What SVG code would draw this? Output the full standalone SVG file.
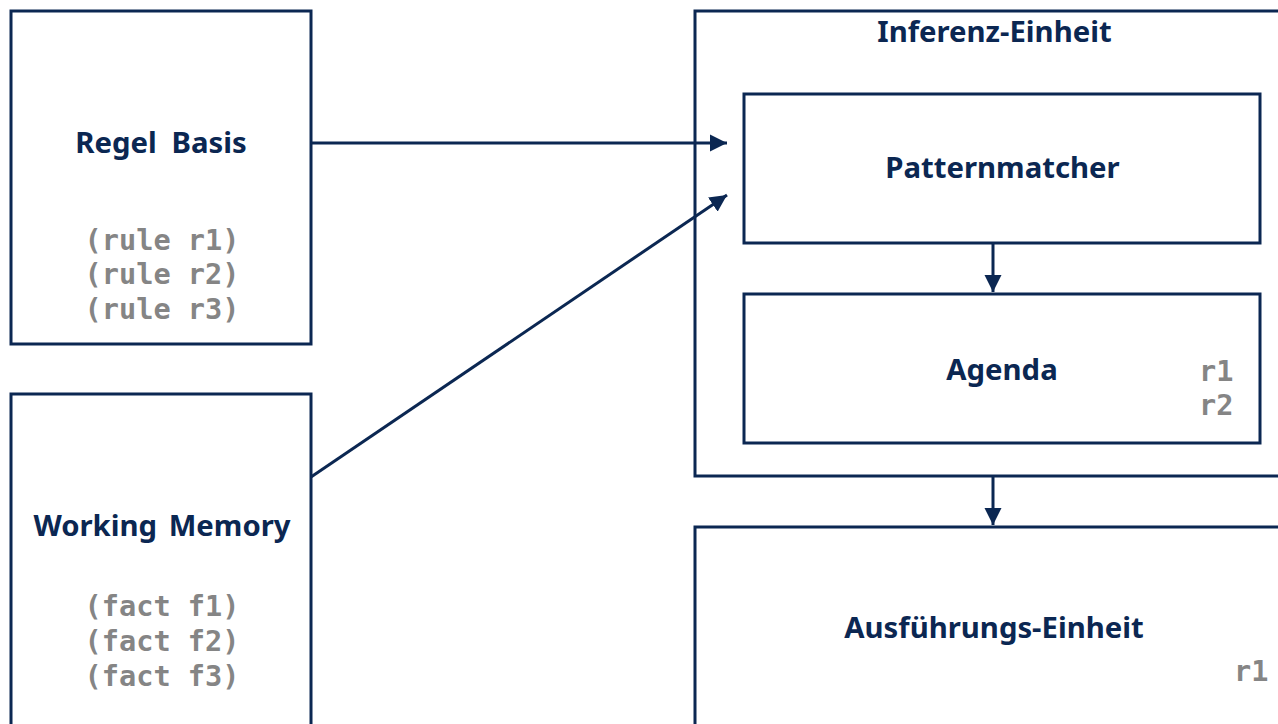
<svg xmlns="http://www.w3.org/2000/svg" width="1278" height="724" viewBox="0 0 1278 724">
  <defs>
    <marker id="arrow" viewBox="0 0 10 10" refX="10" refY="5" markerWidth="5.7" markerHeight="5.7" markerUnits="strokeWidth" orient="auto">
      <path d="M0,0 L10,5 L0,10 Z" fill="#0b2752"/>
    </marker>
    <style>
      .box { fill: #ffffff; stroke: #0b2752; stroke-width: 3; }
      .title { font-family: "Noto Sans", "Open Sans", sans-serif; font-weight: 700; font-size: 29.3px; fill: #0b2752; text-anchor: middle; }
      .code { font-family: "DejaVu Sans Mono", "Liberation Mono", monospace; font-weight: 700; font-size: 28.6px; fill: #858585; text-anchor: middle; }
      .tag { font-family: "DejaVu Sans Mono", "Liberation Mono", monospace; font-weight: 700; font-size: 28.6px; fill: #858585; }
      .edge { fill: none; stroke: #0b2752; stroke-width: 3; marker-end: url(#arrow); }
    </style>
  </defs>
  <rect width="1278" height="724" fill="#ffffff"/>

  <g id="regel-basis">
    <rect class="box" x="11" y="11" width="300" height="333"/>
    <text class="title" x="161" y="153" word-spacing="7">Regel Basis</text>
    <text class="code" x="162" y="250">(rule r1)</text>
    <text class="code" x="162" y="284">(rule r2)</text>
    <text class="code" x="162" y="319">(rule r3)</text>
  </g>

  <g id="working-memory">
    <rect class="box" x="11" y="394" width="300" height="340"/>
    <text class="title" x="162" y="536" word-spacing="4">Working Memory</text>
    <text class="code" x="162" y="616">(fact f1)</text>
    <text class="code" x="162" y="651">(fact f2)</text>
    <text class="code" x="162" y="686">(fact f3)</text>
  </g>

  <g id="inferenz-einheit">
    <rect class="box" x="695" y="11" width="600" height="465"/>
    <text class="title" x="994.5" y="42">Inferenz-Einheit</text>
  </g>

  <g id="patternmatcher">
    <rect class="box" x="744" y="94" width="516" height="149"/>
    <text class="title" x="1002.5" y="178">Patternmatcher</text>
  </g>

  <g id="agenda">
    <rect class="box" x="744" y="294" width="516" height="149"/>
    <text class="title" x="1002" y="380">Agenda</text>
    <text class="tag" x="1199" y="381">r1</text>
    <text class="tag" x="1199" y="415">r2</text>
  </g>

  <g id="ausfuehrungs-einheit">
    <rect class="box" x="695" y="527" width="600" height="220"/>
    <text class="title" x="994" y="638">Ausführungs-Einheit</text>
    <text class="tag" x="1234" y="681">r1</text>
  </g>

  <g id="connectors">
    <line class="edge" x1="311" y1="143" x2="727" y2="143"/>
    <line class="edge" x1="311" y1="477" x2="727" y2="195"/>
    <line class="edge" x1="993" y1="243" x2="993" y2="292"/>
    <line class="edge" x1="993" y1="477" x2="993" y2="525"/>
  </g>
</svg>
